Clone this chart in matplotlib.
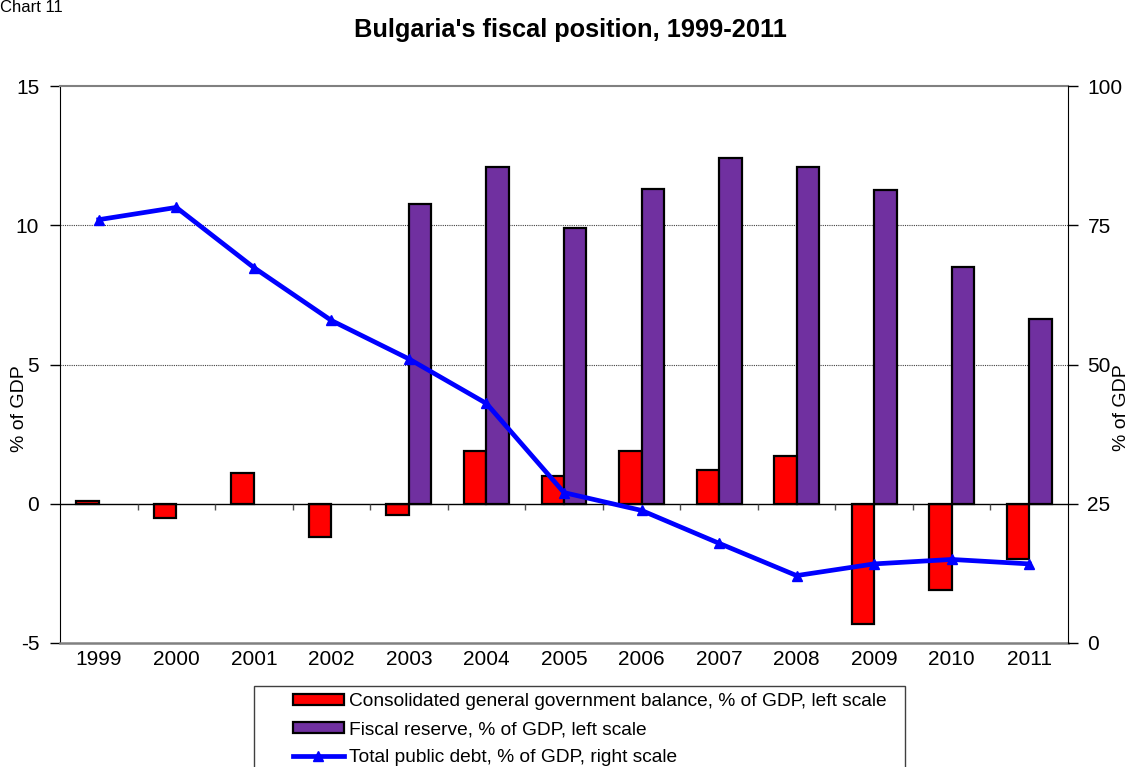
import numpy as np
import matplotlib
matplotlib.use("Agg")
import matplotlib.pyplot as plt
from matplotlib.patches import Patch, Rectangle
from matplotlib.lines import Line2D

plt.rcParams['font.family'] = ['Liberation Sans', 'DejaVu Sans']

years = ['1999', '2000', '2001', '2002', '2003', '2004', '2005',
         '2006', '2007', '2008', '2009', '2010', '2011']
balance = [0.1, -0.5, 1.1, -1.2, -0.4, 1.9, 1.0, 1.9, 1.2, 1.7, -4.3, -3.1, -2.0]
reserve = [np.nan, np.nan, np.nan, np.nan, 10.75, 12.1, 9.9, 11.3, 12.4, 12.1, 11.25, 8.5, 6.65]
debt = [76.0, 78.2, 67.4, 57.9, 51.0, 43.0, 27.0, 23.8, 17.9, 12.1, 14.2, 15.0, 14.2]

left_ticks = [-5, 0, 5, 10, 15]
right_ticks = [0, 25, 50, 75, 100]

red = '#FF0000'
purple = '#7030A0'
blue = '#0000FF'
fs = 15

fig = plt.figure(figsize=(11.3, 7.67), dpi=100)
ax = fig.add_axes([60 / 1130, 1 - 643 / 767, 1008 / 1130, 557 / 767])

x = np.arange(len(years))
w = 0.29
ax.bar(x - w / 2, balance, w, color=red, edgecolor='black', linewidth=1.6, zorder=3)
ax.bar(x + w / 2, reserve, w, color=purple, edgecolor='black', linewidth=1.6, zorder=3)

ax.set_xlim(-0.5, len(years) - 0.5)
ax.set_ylim(-5, 15)
ax.set_yticks(left_ticks)
ax.set_yticklabels([str(t) for t in left_ticks], fontsize=fs)
ax.set_xticks(x)
ax.set_xticklabels(years, fontsize=fs)
ax.tick_params(axis='x', length=0, pad=5)
ax.tick_params(axis='y', direction='out', length=7, width=1, pad=8)

# dotted gridlines and zero line with category tick marks
for g in [5, 10]:
    ax.axhline(g, color='#404040', linestyle=(0, (1, 1)), linewidth=0.8, zorder=1)
ax.axhline(0, color='black', linewidth=1, zorder=4)
ax.vlines(x[:-1] + 0.5, -0.24, 0, color='#505050', linewidth=1, zorder=4)

ax.spines['top'].set_color('#808080')
ax.spines['top'].set_linewidth(1.5)
ax.spines['bottom'].set_color('#808080')
ax.spines['bottom'].set_linewidth(1.8)
ax.spines['left'].set_color('black')
ax.spines['right'].set_visible(False)

ax2 = ax.twinx()
ax2.plot(x, debt, color=blue, linewidth=3.4, marker='^', markersize=7,
         markeredgecolor=blue, zorder=5)
ax2.set_ylim(0, 100)
ax2.set_yticks(right_ticks)
ax2.set_yticklabels([str(t) for t in right_ticks], fontsize=fs)
ax2.tick_params(axis='y', direction='out', length=7, width=1, pad=7)
for s in ['top', 'bottom', 'left']:
    ax2.spines[s].set_visible(False)
ax2.spines['right'].set_color('black')

fig.text(20 / 1130, 1 - 409 / 767, '% of GDP', rotation=90, fontsize=14,
         ha='center', va='center')
fig.text(1122 / 1130, 1 - 408 / 767, '% of GDP', rotation=90, fontsize=14,
         ha='center', va='center')

fig.text(570 / 1130, 1 - 37 / 767, "Bulgaria's fiscal position, 1999-2011",
         fontsize=18.3, fontweight='bold', ha='center', va='baseline')
fig.text(0.0, 1.0, 'Chart 11', fontsize=12, ha='left', va='top')

# legend
handles = [
    Patch(facecolor=red, edgecolor='black', linewidth=1.6),
    Patch(facecolor=purple, edgecolor='black', linewidth=1.6),
    Line2D([], [], color=blue, linewidth=3.4, marker='^', markersize=7),
]
labels = ['Consolidated general government balance, % of GDP, left scale',
          'Fiscal reserve, % of GDP, left scale',
          'Total public debt, % of GDP, right scale']
fig.legend(handles, labels, loc='upper left', bbox_to_anchor=(293 / 1130, 1 - 693 / 767),
           frameon=False, fontsize=13.8, handlelength=2.65, handleheight=0.5,
           handletextpad=0.25, labelspacing=0.58, borderpad=0, borderaxespad=0)
fig.patches.append(Rectangle((254 / 1130, -0.05), 651 / 1130, 0.05 + (767 - 686) / 767,
                             transform=fig.transFigure, fill=False,
                             edgecolor='#404040', linewidth=1))

fig.savefig('out.png', dpi=100)
